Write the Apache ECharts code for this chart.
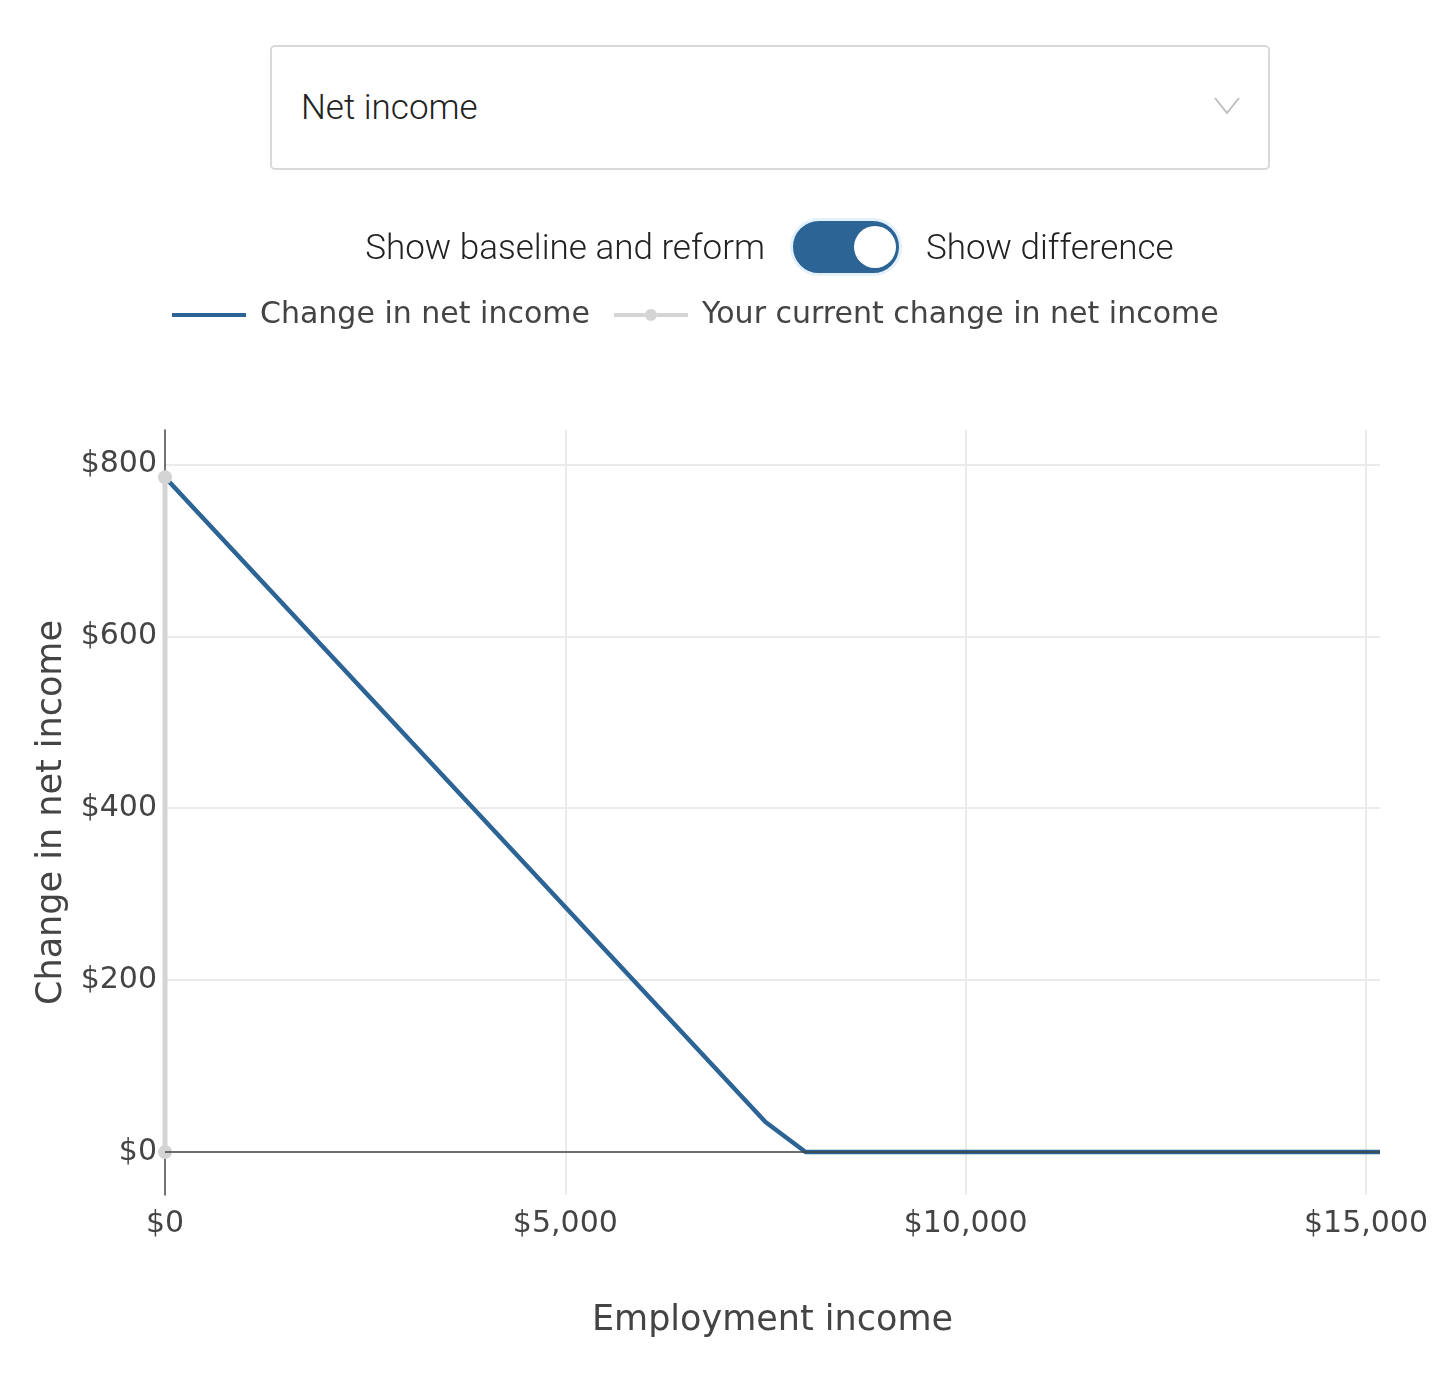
<html>
<head>
<meta charset="utf-8">
<title>Change in net income</title>
<style>
body { margin: 0; background: #fff; }
#main { position: absolute; left: 0; top: 0; width: 1454px; height: 1384px; }
.select {
  position: absolute; left: 270px; top: 45px; width: 996px; height: 121px;
  border: 2px solid #d9d9d9; border-radius: 5px; background: #fff; z-index: 2;
  font-family: Roboto, sans-serif; font-weight: 300; font-size: 35px; color: #222;
}
.select span { position: absolute; left: 29px; top: 41px; line-height: 40px; }
.select svg { position: absolute; right: 28px; top: 50px; }
.switchrow {
  position: absolute; left: 0; top: 218px; width: 1454px; height: 58px; z-index: 2;
  font-family: Roboto, sans-serif; font-weight: 300; font-size: 35px; color: #222;
}
.switchrow .l { position: absolute; right: 689px; top: 10px; line-height: 40px; }
.switchrow .r { position: absolute; left: 926px; top: 10px; line-height: 40px; }
.toggle {
  position: absolute; left: 790px; top: 0; width: 106px; height: 52px;
  background: #2c6496; border-radius: 29px; border: 3px solid #e3f1fc;
}
.toggle .knob {
  position: absolute; left: 61px; top: 5px; width: 42px; height: 42px;
  background: #fff; border-radius: 50%;
}
</style>
</head>
<body>
<div id="main"></div>
<div class="select"><span>Net income</span>
  <svg width="26" height="18" viewBox="0 0 26 18"><polyline points="1,1 13,16 25,1" fill="none" stroke="#bfbfbf" stroke-width="2"/></svg>
</div>
<div class="switchrow">
  <span class="l">Show baseline and reform</span>
  <div class="toggle"><div class="knob"></div></div>
  <span class="r">Show difference</span>
</div>
<script src="https://cdn.jsdelivr.net/npm/echarts@6/dist/echarts.min.js"></script>
<script>
// employment income ($) and change in net income ($)
var incomes = [0, 7500, 8000, 15175];
var netChange = [785, 35, 0, 0];
// current household position
var currentIncome = [0, 0];
var currentChange = [0, 785];

var blue = '#2c6496';
var grey = '#d4d4d4';
var font = 'DejaVu Sans, Verdana, sans-serif';

// legend icons: plain line, and line with a dot in the middle
var lineIcon = 'path://M0,5 L74,5 L74,9 L0,9 Z';
var dotIcon = 'path://M0,5 L31,5 L31,9 L0,9 Z M43,5 L74,5 L74,9 L43,9 Z M37,1 A6,6 0 1 1 37,13 A6,6 0 1 1 37,1 Z';

function money(v) {
  return '$' + Math.round(v).toLocaleString('en-US');
}

var chart = echarts.init(document.getElementById('main'));

var option = {
  animation: false,
  textStyle: {fontFamily: font},
  legend: {
    data: [
      {name: 'Change in net income', icon: lineIcon},
      {name: 'Your current change in net income', icon: dotIcon}
    ],
    left: 167,
    top: 295,
    itemWidth: 74,
    itemHeight: 14,
    itemGap: 24,
    textStyle: {fontFamily: font, fontSize: 30, color: '#444', padding: [0, 0, 0, 9]}
  },
  grid: {left: 165, top: 430, right: 74, bottom: 189, containLabel: false},
  xAxis: {
    type: 'value',
    min: 0,
    max: incomes[incomes.length - 1],
    interval: 5000,
    name: 'Employment income',
    nameLocation: 'middle',
    nameGap: 108,
    nameTextStyle: {fontFamily: font, fontSize: 35, color: '#444'},
    axisLine: {show: false},
    axisTick: {show: false},
    axisLabel: {
      formatter: money, showMaxLabel: false, margin: 14,
      fontFamily: font, fontSize: 30, color: '#444'
    },
    splitLine: {show: true, showMinLine: false, showMaxLine: false, lineStyle: {color: '#ebebeb', width: 2}}
  },
  yAxis: {
    type: 'value',
    min: -50,
    max: 840,
    minInterval: 200,
    maxInterval: 200,
    name: 'Change in net income',
    nameLocation: 'middle',
    nameGap: 91,
    nameTextStyle: {fontFamily: font, fontSize: 35, color: '#444'},
    axisLine: {show: true, onZero: false, lineStyle: {color: '#444', width: 1.5}},
    axisTick: {show: false},
    axisLabel: {
      formatter: money, showMinLabel: false, showMaxLabel: false, margin: 8,
      fontFamily: font, fontSize: 30, color: '#444'
    },
    splitLine: {show: true, showMinLine: false, showMaxLine: false, lineStyle: {color: '#ebebeb', width: 2}}
  },
  series: [
    {
      name: 'zero',
      type: 'line',
      data: [],
      z: 1,
      silent: true,
      markLine: {
        silent: true,
        symbol: 'none',
        label: {show: false},
        lineStyle: {color: '#444', width: 1.5, type: 'solid'},
        data: [{yAxis: 0}]
      }
    },
    {
      name: 'Change in net income',
      type: 'line',
      z: 3,
      showSymbol: false,
      symbol: 'none',
      color: blue,
      lineStyle: {color: blue, width: 4.5},
      data: incomes.map(function (x, i) { return [x, netChange[i]]; })
    },
    {
      name: 'Your current change in net income',
      type: 'line',
      z: 4,
      symbol: 'circle',
      symbolSize: 14,
      color: grey,
      itemStyle: {color: grey},
      lineStyle: {color: grey, width: 5},
      data: currentIncome.map(function (x, i) { return [x, currentChange[i]]; })
    }
  ]
};

chart.setOption(option);
</script>
</body>
</html>
